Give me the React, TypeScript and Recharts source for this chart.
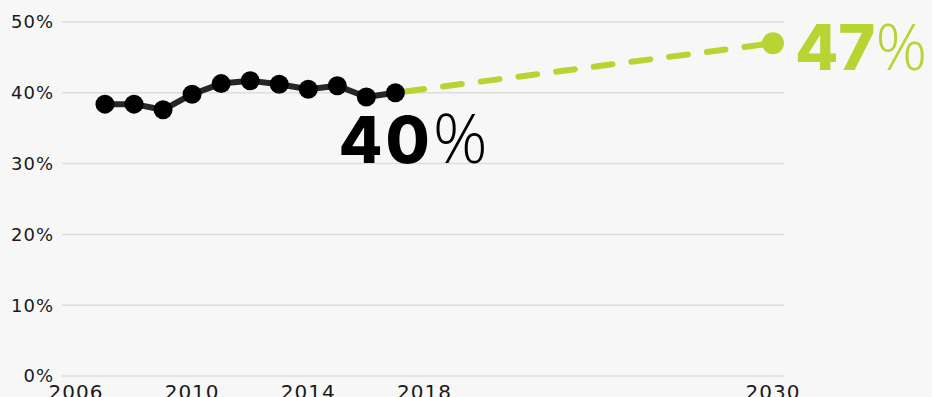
import React from "react";
import { LineChart, Line, XAxis, YAxis, CartesianGrid } from "recharts";

if (typeof document !== "undefined") {
  document.body.style.margin = "0";
  document.body.style.background = "#f7f7f7";
}

const years = [2007, 2008, 2009, 2010, 2011, 2012, 2013, 2014, 2015, 2016, 2017];
const attainment = [38.4, 38.4, 37.6, 39.8, 41.3, 41.7, 41.2, 40.5, 41.0, 39.4, 40.0];
const projectionYears = [2017, 2030];
const projectionValues = [40, 47];
const xTicks = [2006, 2010, 2014, 2018, 2030];
const yTicks = [0, 10, 20, 30, 40, 50];

type Row = { year: number; actual: number | null; proj: number | null };
const rows: Row[] = years.map((y, i) => ({ year: y, actual: attainment[i], proj: null }));
projectionYears.forEach((y, i) => {
  const existing = rows.find((r) => r.year === y);
  if (existing) existing.proj = projectionValues[i];
  else rows.push({ year: y, actual: null, proj: projectionValues[i] });
});

const GREEN = "#b6d432";
const LAST_ACTUAL = years.length - 1;
const LAST_ROW = rows.length - 1;

const yTickFont = { fontFamily: "DejaVu Sans", fontSize: 18, fill: "#1a1a1a", letterSpacing: 1 };
const xTickFont = { fontFamily: "DejaVu Sans", fontSize: 20, fill: "#1a1a1a", letterSpacing: 1 };

const BlackLabelDot = (props: any) => {
  const { cx, cy, index, value } = props;
  if (index !== LAST_ACTUAL || cx == null) return <g key={`bl-${index}`} />;
  return (
    <text key={`bl-${index}`} x={cx - 57} y={cy + 70}>
      <tspan fontFamily="Inter" fontWeight={800} fontSize={64} letterSpacing={3} fill="#000">
        {Math.round(value)}
      </tspan>
      <tspan fontFamily="Open Sans" fontWeight={300} fontSize={68} fill="#000">
        %
      </tspan>
    </text>
  );
};

const GreenDot = (props: any) => {
  const { cx, cy, index, value } = props;
  if (index !== LAST_ROW || cx == null) return <g key={`gd-${index}`} />;
  return (
    <g key={`gd-${index}`}>
      <circle cx={cx} cy={cy} r={11} fill={GREEN} />
      <text x={cx + 22} y={cy + 27}>
        <tspan fontFamily="Inter" fontWeight={800} fontSize={63} fill={GREEN}>
          {Math.round(value)}
        </tspan>
        <tspan fontFamily="Open Sans" fontWeight={300} fontSize={64} fill={GREEN}>
          %
        </tspan>
      </text>
    </g>
  );
};

export default function App() {
  return (
    <div style={{ width: 932, height: 397, overflow: "hidden", background: "#f7f7f7" }}>
      <LineChart
        width={932}
        height={420}
        data={rows}
        margin={{ top: 22, right: 148, bottom: 8, left: 0 }}
      >
        <CartesianGrid horizontal vertical={false} stroke="#dddddd" strokeWidth={1.5} />
        <XAxis
          dataKey="year"
          type="number"
          domain={[2005.52, 2030.38]}
          ticks={xTicks}
          interval={0}
          axisLine={false}
          tickLine={false}
          tickSize={0}
          tickMargin={9}
          height={36}
          tick={xTickFont}
        />
        <YAxis
          type="number"
          domain={[0, 50]}
          ticks={yTicks}
          tickFormatter={(v: number) => `${v}%`}
          axisLine={false}
          tickLine={false}
          tickSize={0}
          tickMargin={8}
          width={62}
          tick={yTickFont}
        />
        <Line
          dataKey="proj"
          stroke={GREEN}
          strokeWidth={6}
          strokeDasharray="19 19"
          strokeDashoffset={28}
          strokeLinecap="round"
          dot={GreenDot}
          activeDot={false}
          isAnimationActive={false}
          connectNulls
        />
        <Line
          dataKey="actual"
          stroke="none"
          strokeWidth={0}
          dot={{ r: 9.5, fill: "#000", stroke: "none" }}
          activeDot={false}
          isAnimationActive={false}
        />
        <Line
          dataKey="actual"
          stroke="#2a2425"
          strokeWidth={6}
          strokeLinejoin="round"
          dot={BlackLabelDot}
          activeDot={false}
          isAnimationActive={false}
        />
      </LineChart>
    </div>
  );
}
